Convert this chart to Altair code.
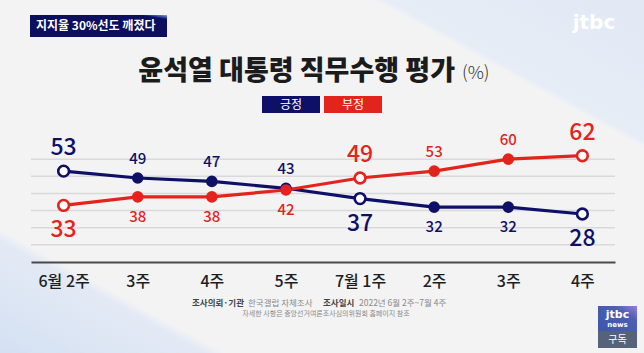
import altair as alt
import pandas as pd

# ---- data ----
week_labels = ["6월 2주", "3주", "4주", "5주", "7월 1주", "2주", "3주", "4주"]
approve = [53, 49, 47, 43, 37, 32, 32, 28]        # 긍정
disapprove = [33, 38, 38, 42, 49, 53, 60, 62]     # 부정
highlight = [True, False, False, False, True, False, False, True]
approve_above = [True, True, True, True, False, False, False, False]
series_names = ["긍정", "부정"]
grid_values = [10, 20, 30, 40, 50, 60]

NAVY = "#0e1068"
RED = "#e3241c"
FONT = "Noto Sans CJK KR"

rows = []
for i, lab in enumerate(week_labels):
    rows.append({"idx": i, "series": "긍정", "value": approve[i],
                 "big": highlight[i], "above": approve_above[i]})
    rows.append({"idx": i, "series": "부정", "value": disapprove[i],
                 "big": highlight[i], "above": not approve_above[i]})
df = pd.DataFrame(rows)
grid_df = pd.DataFrame({"value": grid_values})

label_expr = "[" + ",".join("'%s'" % s for s in week_labels) + "][datum.value]"

color_scale = alt.Scale(domain=series_names, range=[NAVY, RED])
X = alt.X("idx:O", scale=alt.Scale(type="point", padding=0.44),
          axis=alt.Axis(title=None, labelExpr=label_expr, ticks=False, labelAngle=0,
                        labelFontSize=16, labelFont=FONT, labelFontWeight=500,
                        labelColor="#1e1e1e", labelPadding=11, zindex=1,
                        domainColor="#4a4a4a", domainWidth=2, grid=False))
YS = alt.Scale(domain=[0, 70])
Y = alt.Y("value:Q", scale=YS, axis=None)

one = pd.DataFrame({"k": [0]})

# pixel offset of plot origin in the canvas
OX, OY = 31, 142
def px(x):
    return alt.value(x - OX)
def py(y):
    return alt.value(y - OY)

# ---- background ----
bg = alt.Chart(one).mark_rect(
    fill=alt.LinearGradient(
        gradient="linear", x1=0, y1=1, x2=1, y2=0,
        stops=[alt.GradientStop(offset=0, color="#d4e0f2"),
               alt.GradientStop(offset=0.16, color="#e3eaf5"),
               alt.GradientStop(offset=0.175, color="#f3f3f4"),
               alt.GradientStop(offset=0.79, color="#f3f3f4"),
               alt.GradientStop(offset=0.80, color="#e7edf6"),
               alt.GradientStop(offset=1, color="#e1e8f4")])
).encode(x=px(0), x2=px(644), y=py(0), y2=py(353))

grid = alt.Chart(grid_df).mark_rule(color="#d9d9db", strokeWidth=1.5).encode(
    y=Y, x=alt.value(0), x2=alt.value(584))

# ---- chart layers ----
base = alt.Chart(df)
line_a = base.transform_filter("datum.series == '긍정'").mark_line(strokeWidth=3.2).encode(
    x=X, y=Y, color=alt.Color("series:N", scale=color_scale, legend=None))
line_b = base.transform_filter("datum.series == '부정'").mark_line(strokeWidth=3.2).encode(
    x=X, y=Y, color=alt.Color("series:N", scale=color_scale, legend=None))

filled_pts = base.transform_filter("!datum.big").mark_point(
    shape="circle", filled=True, size=135, opacity=1).encode(
    x=X, y=Y, fill=alt.Fill("series:N", scale=color_scale, legend=None))
open_pts = base.transform_filter("datum.big").mark_point(
    shape="circle", filled=False, fill="white", fillOpacity=1, size=115,
    strokeWidth=2.6, opacity=1).encode(
    x=X, y=Y, stroke=alt.Stroke("series:N", scale=color_scale, legend=None))

def labels(big, above):
    cond = ("datum.big" if big else "!datum.big") + " && " + ("datum.above" if above else "!datum.above")
    dy = (-23 if above else 25) if big else (-19 if above else 20)
    return base.transform_filter(cond).mark_text(
        font=FONT, fontSize=23 if big else 15, fontWeight=500, dy=dy,
        baseline="middle", align="center").encode(
        x=X, y=Y, text=alt.Text("value:Q"),
        color=alt.Color("series:N", scale=color_scale, legend=None))

# ---- decorations ----
title = alt.Chart(one).mark_text(
    text="윤석열 대통령 직무수행 평가", font=FONT, fontSize=27, fontWeight=900,
    color="#1b1b1b", align="right", baseline="middle").encode(x=px(455), y=py(72))
pct = alt.Chart(one).mark_text(
    text="(%)", font=FONT, fontSize=18, fontWeight=300, color="#333333",
    align="left", baseline="middle").encode(x=px(462), y=py(74))

leg_a = alt.Chart(one).mark_rect(color=NAVY).encode(x=px(262), x2=px(320), y=py(96), y2=py(113))
leg_b = alt.Chart(one).mark_rect(color=RED).encode(x=px(324), x2=px(382), y=py(96), y2=py(113))
leg_a_t = alt.Chart(one).mark_text(text="긍정", font=FONT, fontSize=12, color="white",
                                   baseline="middle").encode(x=px(291), y=py(104.5))
leg_b_t = alt.Chart(one).mark_text(text="부정", font=FONT, fontSize=12, color="white",
                                   baseline="middle").encode(x=px(353), y=py(104.5))

tag = alt.Chart(one).mark_rect(
    fill=alt.LinearGradient(gradient="linear", x1=0, y1=1, x2=1, y2=0,
                            stops=[alt.GradientStop(offset=0, color="#0b0f5e"),
                                   alt.GradientStop(offset=0.9, color="#0b0f5e"),
                                   alt.GradientStop(offset=0.97, color="#5577d6"),
                                   alt.GradientStop(offset=1, color="#8fa6e8")])
).encode(x=px(30), x2=px(167), y=py(15), y2=py(37))
tag_t = alt.Chart(one).mark_text(text="지지율 30%선도 깨졌다", font=FONT, fontSize=12,
                                 fontWeight=700, color="white", align="left",
                                 baseline="middle").encode(x=px(36), y=py(26))

logo = alt.Chart(one).mark_text(text="jtbc", font="DejaVu Sans", fontSize=20,
                                fontWeight=700, color="white", align="center",
                                baseline="middle").encode(x=px(594), y=py(23))

fn_parts = [
    ("조사의뢰·기관", 192, 700, "#444444"),
    ("한국갤럽 자체조사", 248, 400, "#8a8a8a"),
    ("조사일시", 323, 700, "#444444"),
    ("2022년 6월 2주~7월 4주", 359, 400, "#8a8a8a"),
]
fn_layers = [alt.Chart(one).mark_text(text=t, font=FONT, fontSize=8.5, fontWeight=w, color=c,
                                      align="left", baseline="middle").encode(x=px(x), y=py(303))
             for t, x, w, c in fn_parts]
fn2 = alt.Chart(one).mark_text(text="자세한 사항은 중앙선거여론조사심의위원회 홈페이지 참조",
                               font=FONT, fontSize=7, color="#8a8a8a", align="center",
                               baseline="middle").encode(x=px(326), y=py(314))

news_top = alt.Chart(one).mark_rect(
    fill=alt.LinearGradient(gradient="linear", x1=0, y1=1, x2=1, y2=0,
                            stops=[alt.GradientStop(offset=0, color="#3f56a8"),
                                   alt.GradientStop(offset=0.7, color="#4b5fb4"),
                                   alt.GradientStop(offset=1, color="#9b7fd8")])
).encode(x=px(598), x2=px(637), y=py(306), y2=py(331))
news_bot = alt.Chart(one).mark_rect(color="#55627a").encode(x=px(598), x2=px(637), y=py(331), y2=py(348))
news_t1 = alt.Chart(one).mark_text(text="jtbc", font="DejaVu Sans", fontSize=11, fontWeight=700,
                                   color="white", baseline="middle").encode(x=px(617.5), y=py(315))
news_t2 = alt.Chart(one).mark_text(text="news", font="DejaVu Sans", fontSize=7, fontWeight=700,
                                   color="white", baseline="middle").encode(x=px(617.5), y=py(325))
news_t3 = alt.Chart(one).mark_text(text="구독", font=FONT, fontSize=10, color="white",
                                   baseline="middle").encode(x=px(617.5), y=py(340))

chart = alt.layer(
    bg, grid, line_a, line_b, filled_pts, open_pts,
    labels(True, True), labels(True, False), labels(False, True), labels(False, False),
    title, pct, leg_a, leg_b, leg_a_t, leg_b_t, tag, tag_t, logo,
    *fn_layers, fn2, news_top, news_bot, news_t1, news_t2, news_t3
).properties(
    width=584, height=120,
    autosize=alt.AutoSizeParams(type="none"),
    padding={"left": 31, "top": 142, "right": 29, "bottom": 91},
    background="#f3f3f4"
).configure_view(stroke=None)

chart.save("out.html", embed_options={"renderer": "svg", "actions": False})
